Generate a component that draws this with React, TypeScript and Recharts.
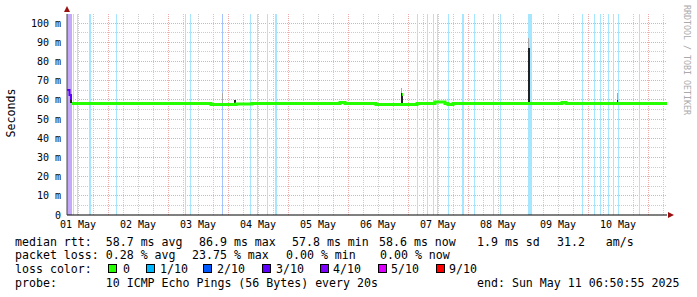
import { ComposedChart, Line, XAxis, YAxis, ReferenceArea, CartesianGrid } from 'recharts';

// time axis is in hours after 01 May 00:00
const T_START = 7.6;
const T_END = 247.6;
const Y_MAX = 104.69;

const dayTicks = [12, 36, 60, 84, 108, 132, 156, 180, 204, 228];
const dayLabels = ['01 May', '02 May', '03 May', '04 May', '05 May', '06 May', '07 May', '08 May', '09 May', '10 May'];
const yTicks = [0, 10, 20, 30, 40, 50, 60, 70, 80, 90, 100];

// loss background bars: start hour, duration (h), loss level in tenths
const lossStart = [7.6, 10.0, 11.6, 16.4, 27.2, 54.8, 56.8, 69.6, 80.8, 83.6, 87.6, 90.8, 147.6, 151.6, 154.0, 155.6, 160.0, 165.6, 170.4, 178.0, 180.8, 192.0, 213.6, 218.4, 220.8, 224.0, 226.0, 228.0, 236.4];
const lossHours = [2.0, 0.4, 0.4, 0.8, 0.4, 0.4, 0.4, 0.4, 0.4, 0.4, 0.4, 0.8, 0.4, 0.4, 0.4, 0.4, 0.4, 0.8, 0.4, 0.4, 0.4, 1.6, 0.4, 0.4, 0.4, 0.4, 0.4, 0.4, 0.4];
const lossLevel = [4, 1, 1, 1, 1, 1, 1, 2, 1, 1, 1, 1, 1, 1, 1, 1, 1, 1, 1, 1, 1, 1, 1, 1, 1, 1, 1, 1, 1];

// median rtt (ms), step changes
const medianTimes = [9.6, 65.2, 75.2, 81.6, 116.8, 118.8, 131.2, 147.6, 154.8, 158.8, 160.0, 162.0, 205.6, 207.2, 247.6];
const medianValues = [58.1, 57.6, 57.8, 58.1, 58.6, 58.1, 57.6, 58.1, 58.9, 58.1, 57.6, 58.1, 58.6, 58.1, 58.1];

// first samples, drawn at 3/10 loss colour
const firstTimes = [7.6, 8.6, 9.2];
const firstValues = [65.1, 62.5, 60.0];

// dark spikes
const spikeStart = [8.8, 74.4, 141.2, 192.0, 227.6];
const spikeEnd = [9.6, 75.2, 142.0, 192.8, 228.0];
const spikeLow = [58.1, 57.6, 57.6, 58.1, 58.1];
const spikeHigh = [62.0, 60.0, 63.5, 87.0, 60.0];

// grey smoke
const smokeStart = [69.6, 141.2, 192.0, 227.6];
const smokeEnd = [70.0, 141.6, 192.4, 228.0];
const smokeLow = [58.1, 63.5, 87.0, 60.0];
const smokeHigh = [63.5, 66.0, 92.2, 63.5];

// median pieces in another loss colour
const markStart = [141.6, 165.6, 192.8];
const markEnd = [142.0, 166.4, 194.0];
const markValue = [63.0, 58.1, 58.1];
const markLevel = [0, 1, 1];

const lossColors: Record<number, string> = {
  0: '#26ff00', 1: '#00b8ff', 2: '#0059ff', 3: '#5e00ff', 4: '#7e00ff', 5: '#dd00ff', 9: '#ff0000',
};
const lossBack: Record<number, string> = { 1: '#a6e6ff', 2: '#a6c5ff', 3: '#b9a6ff', 4: '#c4a8fa' };

const legendLevels = [0, 1, 2, 3, 4, 5, 9];
const legendNames = ['0', '1/10', '2/10', '3/10', '4/10', '5/10', '9/10'];
const legendBoxX = [108, 146, 203, 262, 320, 378, 436];
const legendTextX = [123, 160, 217, 276, 333, 391, 449];

const rttStats = ['median rtt:  58.7 ms avg', '86.9 ms max', '57.8 ms min', '58.6 ms now', '1.9 ms sd', '31.2   am/s'];
const rttX = [15, 199, 292, 379, 477, 557];
const lossStats = ['packet loss: 0.28 % avg', '23.75 % max', '0.00 % min', '0.00 % now'];
const lossX = [15, 192, 286, 380];

const minorX = Array.from({ length: 40 }, (_, i) => 12 + 6 * i).filter((h) => h % 24 !== 0 && h < T_END);
const majorX = [24, 48, 72, 96, 120, 144, 168, 192, 216, 240];
const minorY = [5, 15, 25, 35, 45, 55, 65, 75, 85, 95];
const majorY = [10, 20, 30, 40, 50, 60, 70, 80, 90, 100];

const mono = '"DejaVu Sans Mono", monospace';

const medianData = medianTimes.map((t, i) => ({ t, v: medianValues[i] }));
const firstData = firstTimes.map((t, i) => ({ t, v: firstValues[i] }));

const textStyle: React.CSSProperties = {
  position: 'absolute',
  fontFamily: mono,
  fontSize: 11.6,
  lineHeight: '14px',
  whiteSpace: 'pre',
  color: '#000',
};

export default function App() {
  return (
    <div style={{ position: 'absolute', left: 0, top: 0, width: 697, height: 297, background: '#fff', overflow: 'hidden' }}>
      <ComposedChart width={697} height={297} margin={{ top: 14, right: 30, bottom: 52, left: 7 }}>
        <CartesianGrid
          verticalValues={minorX}
          horizontalValues={minorY}
          stroke="#cbcbcb"
          strokeDasharray="1 1"
          shapeRendering="crispEdges"
        />
        <CartesianGrid
          verticalValues={majorX}
          horizontalValues={majorY}
          stroke="#eeaaaa"
          strokeDasharray="1 1"
          shapeRendering="crispEdges"
        />
        <XAxis
          type="number"
          dataKey="t"
          domain={[T_START, T_END]}
          allowDataOverflow
          ticks={dayTicks}
          interval={0}
          tickFormatter={(v: number) => dayLabels[dayTicks.indexOf(v)]}
          tick={{ fontSize: 10, fontFamily: mono, fill: '#000' }}
          tickLine={false}
          tickSize={6}
          tickMargin={0}
          height={30}
          axisLine={{ stroke: '#000' }}
        />
        <YAxis
          type="number"
          domain={[0, Y_MAX]}
          allowDataOverflow
          ticks={yTicks}
          interval={0}
          tickFormatter={(v: number) => (v === 0 ? '0' : `${v} m`)}
          tick={{ fontSize: 10, fontFamily: mono, fill: '#000' }}
          tickLine={false}
          tickSize={6}
          tickMargin={0}
          width={60}
          axisLine={{ stroke: '#444' }}
        />
        {lossStart.map((t, i) => (
          <ReferenceArea
            key={'loss' + i}
            x1={t}
            x2={t + lossHours[i]}
            y1={0}
            y2={Y_MAX}
            fill={lossBack[lossLevel[i]]}
            fillOpacity={1}
            stroke="none"
            shapeRendering="crispEdges"
          />
        ))}
        <Line
          data={medianData}
          dataKey="v"
          type="stepAfter"
          stroke={lossColors[0]}
          strokeWidth={3}
          dot={false}
          activeDot={false}
          isAnimationActive={false}
        />
        <Line
          data={firstData}
          dataKey="v"
          type="stepAfter"
          stroke={lossColors[3]}
          strokeWidth={2}
          dot={false}
          activeDot={false}
          isAnimationActive={false}
        />
        {smokeStart.map((t, i) => (
          <ReferenceArea key={'smoke' + i} x1={t} x2={smokeEnd[i]} y1={smokeLow[i]} y2={smokeHigh[i]} fill="#a8a8a8" fillOpacity={1} stroke="none" shapeRendering="crispEdges" />
        ))}
        {spikeStart.map((t, i) => (
          <ReferenceArea key={'spike' + i} x1={t} x2={spikeEnd[i]} y1={spikeLow[i]} y2={spikeHigh[i]} fill="#222" fillOpacity={1} stroke="none" shapeRendering="crispEdges" />
        ))}
        {markStart.map((t, i) => (
          <ReferenceArea key={'mark' + i} x1={t} x2={markEnd[i]} y1={markValue[i] - 0.8} y2={markValue[i] + 0.8} fill={lossColors[markLevel[i]]} fillOpacity={1} stroke="none" shapeRendering="crispEdges" />
        ))}
      </ComposedChart>

      <svg width={697} height={297} style={{ position: 'absolute', left: 0, top: 0, pointerEvents: 'none' }}>
        <polygon points="64,12 70,12 67,6" fill="#9a1010" />
        <polygon points="668,212 668,218 674,215" fill="#9a1010" />
        <text transform="translate(15,113) rotate(-90)" textAnchor="middle" fontFamily={mono} fontSize={11.6} fill="#000">
          Seconds
        </text>
        <text transform="translate(684,5) rotate(90)" fontFamily={mono} fontSize={8.3} fill="#aaa">
          RRDTOOL / TOBI OETIKER
        </text>
      </svg>

      {rttStats.map((s, i) => (
        <div key={'r' + i} style={{ ...textStyle, left: rttX[i], top: 234.5 }}>{s}</div>
      ))}
      {lossStats.map((s, i) => (
        <div key={'l' + i} style={{ ...textStyle, left: lossX[i], top: 248.3 }}>{s}</div>
      ))}
      <div style={{ ...textStyle, left: 15, top: 262 }}>loss color:</div>
      {legendLevels.map((lvl, i) => (
        <div key={'b' + lvl}>
          <div
            style={{
              position: 'absolute',
              left: legendBoxX[i],
              top: 264,
              width: 9,
              height: 9,
              boxSizing: 'border-box',
              border: '1px solid #000',
              background: lossColors[lvl],
            }}
          />
          <div style={{ ...textStyle, left: legendTextX[i], top: 262 }}>{legendNames[i]}</div>
        </div>
      ))}
      <div style={{ ...textStyle, left: 15, top: 275.8 }}>probe:       10 ICMP Echo Pings (56 Bytes) every 20s</div>
      <div style={{ ...textStyle, left: 477, top: 275.8 }}>end: Sun May 11 06:50:55 2025</div>
    </div>
  );
}
